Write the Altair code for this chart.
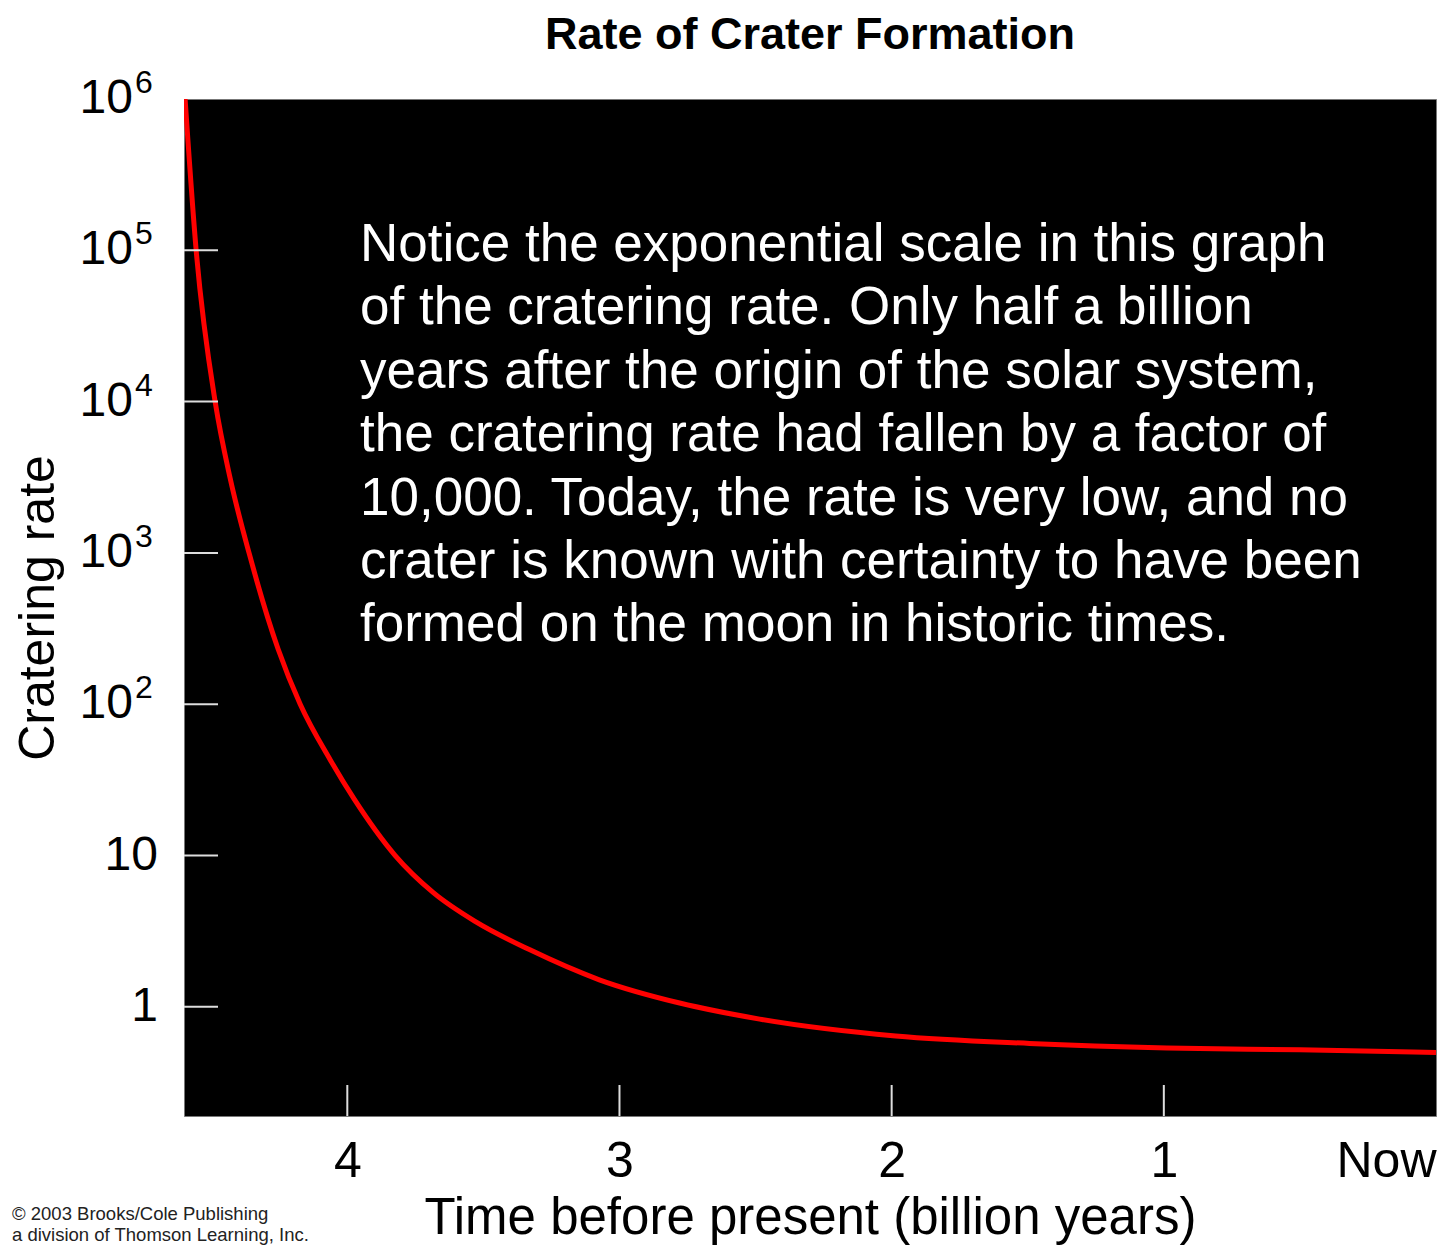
import altair as alt
import pandas as pd

# ---- data ----
time_gyr = [4.596, 4.555, 4.485, 4.430, 4.360, 4.254, 4.173, 4.063, 3.974, 3.824,
            3.684, 3.529, 3.331, 3.074, 2.779, 2.485, 1.985, 1.493, 0.989, 0.5, 0.0]
crater_rate = [1e6, 98400, 9840, 3090, 985, 231, 100, 43, 23.5, 10,
               5.69, 3.66, 2.39, 1.51, 1.06, 0.83, 0.642, 0.573, 0.535, 0.52, 0.50]

y_tick_values = [1, 10, 100, 1000, 10000, 100000]
y_plain_values = [1, 10]
y_plain_labels = ["1", "10"]
y_pow_values = [100, 1000, 10000, 100000, 1000000]
y_pow_exps = ["2", "3", "4", "5", "6"]
x_tick_values = [4, 3, 2, 1]
x_label_values = [4, 3, 2, 1, 0]

title_text = "Rate of Crater Formation"
x_title = "Time before present (billion years)"
y_title = "Cratering rate"
note_lines = [
    "Notice the exponential scale in this graph",
    "of the cratering rate. Only half a billion",
    "years after the origin of the solar system,",
    "the cratering rate had fallen by a factor of",
    "10,000. Today, the rate is very low, and no",
    "crater is known with certainty to have been",
    "formed on the moon in historic times.",
]
copyright_lines = ["\u00a9 2003 Brooks/Cole Publishing",
                   "a division of Thomson Learning, Inc."]

W, H = 1252, 1017
FONT = "Liberation Sans"

xs = alt.Scale(domain=[0, 4.6], reverse=True, nice=False, zero=False)
ys = alt.Scale(type="log", domain=[0.19, 1e6], nice=False)

curve_df = pd.DataFrame({"t": time_gyr, "rate": crater_rate})

line = alt.Chart(curve_df).mark_line(
    color="#ff0000", strokeWidth=5, interpolate="monotone", clip=True
).encode(
    x=alt.X("t:Q", scale=xs, axis=alt.Axis(
        values=x_label_values,
        labelExpr="datum.value == 0 ? 'Now' : format(datum.value, 'd')",
        labelFlush=True, ticks=False, tickSize=0, domain=False, grid=False,
        labelFont=FONT, labelFontSize=50, labelColor="black", labelPadding=20,
        title=x_title, titleFont=FONT, titleFontSize=51, titleFontWeight="normal",
        titleColor="black", titlePadding=7)),
    y=alt.Y("rate:Q", scale=ys, axis=alt.Axis(
        labels=False, ticks=False, domain=False, grid=False,
        title=y_title, titleFont=FONT, titleFontSize=50, titleFontWeight="normal",
        titleColor="black", titlePadding=121)),
)

xt = alt.Chart(pd.DataFrame({"t": x_tick_values})).mark_rule(
    color="#dddddd", strokeWidth=2
).encode(x=alt.X("t:Q", scale=xs), y=alt.value(H - 31), y2=alt.value(H))

yt = alt.Chart(pd.DataFrame({"rate": y_tick_values})).mark_rule(
    color="#dddddd", strokeWidth=2
).encode(y=alt.Y("rate:Q", scale=ys), x=alt.value(0), x2=alt.value(34))

ylab_plain = alt.Chart(pd.DataFrame({"rate": y_plain_values, "lab": y_plain_labels})).mark_text(
    align="right", baseline="middle", font=FONT, fontSize=48, color="black"
).encode(y=alt.Y("rate:Q", scale=ys), x=alt.value(-26), text="lab:N")

ylab_base = alt.Chart(pd.DataFrame({"rate": y_pow_values, "exp": y_pow_exps})).mark_text(
    align="right", baseline="middle", font=FONT, fontSize=48, color="black", text="10"
).encode(y=alt.Y("rate:Q", scale=ys), x=alt.value(-51))

ylab_exp = alt.Chart(pd.DataFrame({"rate": y_pow_values, "exp": y_pow_exps})).mark_text(
    align="left", baseline="alphabetic", font=FONT, fontSize=32, color="black", dy=-6
).encode(y=alt.Y("rate:Q", scale=ys), x=alt.value(-49), text="exp:N")

note = alt.Chart(pd.DataFrame({"k": [0]})).mark_text(
    align="left", baseline="alphabetic", font=FONT, fontSize=53, lineHeight=63.4,
    color="white", text=note_lines
).encode(x=alt.value(176), y=alt.value(162))

title_mark = alt.Chart(pd.DataFrame({"k": [0]})).mark_text(
    align="center", baseline="alphabetic", font=FONT, fontSize=45, fontWeight="bold",
    color="black", text=title_text
).encode(x=alt.value(W / 2), y=alt.value(-50))

copy = alt.Chart(pd.DataFrame({"k": [0]})).mark_text(
    align="left", baseline="middle", font=FONT, fontSize=18.5, lineHeight=21,
    color="#222222", text=copyright_lines
).encode(x=alt.value(-172), y=alt.value(1115))

chart = alt.layer(line, xt, yt, ylab_plain, ylab_base, ylab_exp, note, title_mark, copy).properties(
    width=W, height=H,
    autosize=alt.AutoSizeParams(type="none"),
    padding={"left": 176, "top": 91, "right": 12, "bottom": 130},
    background="white",
).configure_view(fill="black", stroke="#777777", strokeWidth=1)

chart.save("out.html", embed_options={"renderer": "svg", "actions": False})
